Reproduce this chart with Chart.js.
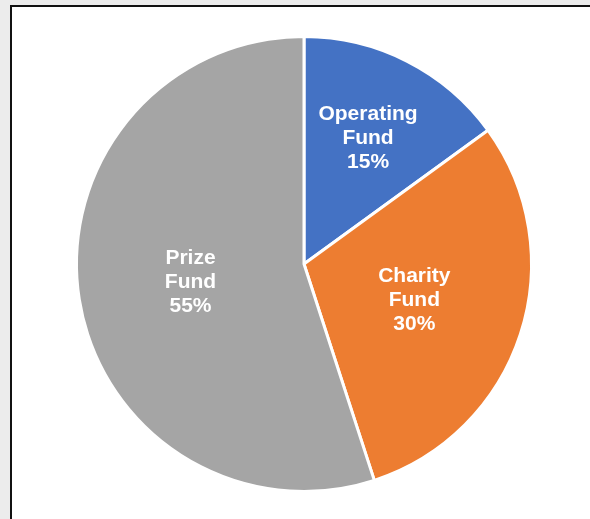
<!DOCTYPE html>
<html>
<head>
<meta charset="utf-8">
<script src="https://cdn.jsdelivr.net/npm/chart.js@4/dist/chart.umd.min.js"></script>
<style>
	html, body { margin: 0; padding: 0; }
	body { width: 590px; height: 519px; background: #ececec; position: relative; overflow: hidden; }
	.frame {
		position: absolute; left: 10px; top: 5px; width: 620px; height: 560px;
		background: #ffffff; border-left: 2px solid #111; border-top: 2px solid #111;
	}
	.wrap { position: absolute; left: 0; top: 0; width: 590px; height: 519px; }
</style>
</head>
<body>
<div class="frame"></div>
<div class="wrap"><canvas id="pie"></canvas></div>
<script>
const fundNames = [["Operating", "Fund"], ["Charity", "Fund"], ["Prize", "Fund"]];
const fundShares = [15, 30, 55];
const fundColors = ["#4472C4", "#ED7D31", "#A5A5A5"];

// white multi-line labels inside each slice
const sliceLabels = {
	id: "sliceLabels",
	afterDatasetsDraw(chart, args, opts) {
		const { ctx } = chart;
		const meta = chart.getDatasetMeta(0);
		ctx.save();
		ctx.fillStyle = "#ffffff";
		ctx.font = "bold 21px 'Liberation Sans', Arial, sans-serif";
		ctx.textAlign = "center";
		ctx.textBaseline = "middle";
		meta.data.forEach((arc, i) => {
			const mid = (arc.startAngle + arc.endAngle) / 2;
			const r = arc.outerRadius * opts.radius[i];
			const x = arc.x + Math.cos(mid) * r;
			const y = arc.y + Math.sin(mid) * r;
			const lines = [...fundNames[i], fundShares[i] + "%"];
			lines.forEach((line, k) => {
				ctx.fillText(line, x, y + (k - 1) * 24);
			});
		});
		ctx.restore();
	}
};

new Chart(document.getElementById("pie"), {
	type: "pie",
	data: {
		labels: fundNames.map((n) => n.join(" ")),
		datasets: [{
			data: fundShares,
			backgroundColor: fundColors,
			borderColor: "#ffffff",
			borderWidth: 3
		}]
	},
	options: {
		responsive: true,
		maintainAspectRatio: false,
		animation: false,
		layout: { padding: { left: 75, top: 35, right: 57, bottom: 26 } },
		plugins: {
			legend: { display: false },
			tooltip: { enabled: false },
			sliceLabels: { radius: [0.62, 0.51, 0.505] }
		}
	},
	plugins: [sliceLabels]
});
</script>
</body>
</html>
